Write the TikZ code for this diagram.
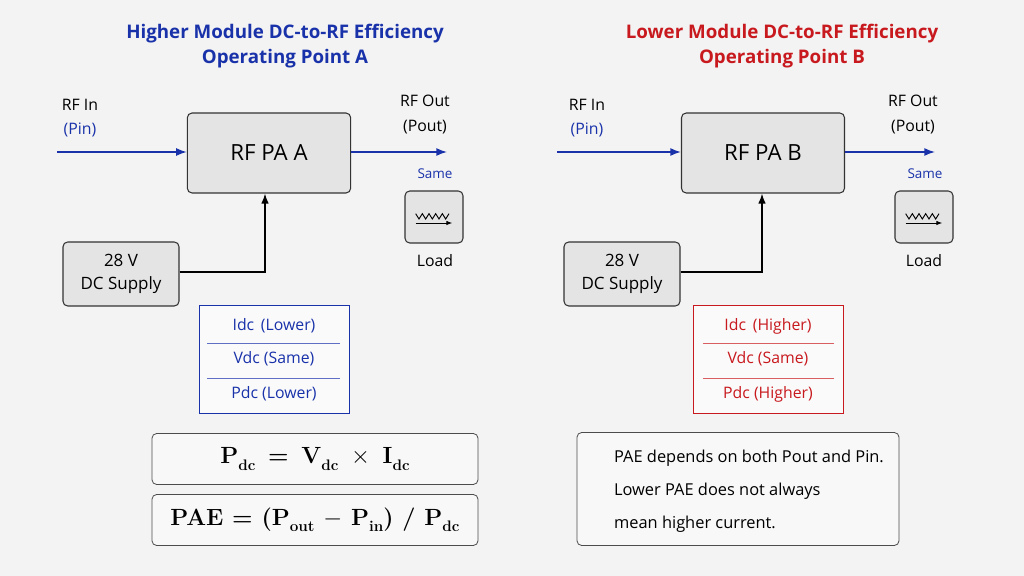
\documentclass[tikz,border=0pt]{standalone}
\usepackage{fontspec}
\setmainfont{Open Sans}
\newfontfamily\frm{Latin Modern Roman}
\usetikzlibrary{arrows.meta}
\definecolor{hiblue}{RGB}{25,50,170}
\definecolor{lored}{RGB}{200,25,30}
\definecolor{boxgray}{RGB}{228,228,228}
\definecolor{bggray}{RGB}{243,243,243}
\newcommand{\sbd}[1]{\raisebox{-0.6ex}{\frm\bfseries\fontsize{13}{14}\selectfont #1}}
\begin{document}
\begin{tikzpicture}[x=0.3mm,y=-0.3mm,font=\fontsize{13.5}{16}\selectfont]
\tikzset{
  block/.style = {draw=black!80, fill=boxgray, rounded corners=4pt, line width=0.9pt},
  pabox/.style = {block, minimum width=49mm, minimum height=24mm, font=\fontsize{19}{22}\selectfont},
  supply/.style = {block, minimum width=34.8mm, minimum height=19.2mm, align=center, font=\fontsize{14.5}{19}\selectfont},
  loadbox/.style = {block, minimum width=17.4mm, minimum height=15.6mm},
  formula/.style = {draw=black!70, fill=bggray!60!white, rounded corners=4pt, line width=0.7pt, minimum width=97.8mm, minimum height=15.3mm},
  tab/.style = {draw=#1, fill=white!60!bggray, line width=0.7pt, minimum width=45mm, minimum height=32.4mm},
  sig/.style = {hiblue, line width=1.3pt, -{Latex[length=3.2mm]}},
  title/.style = {font=\bfseries\fontsize{16}{22}\selectfont, align=center}
}
\fill[bggray] (0,0) rectangle (1024,576);
% left: operating point A
\node[title, text=hiblue] (titleA) at (285,46) {Higher Module DC-to-RF Efficiency\\Operating Point A};
\node (inA) at (80,105) {RF In};
\node[text=hiblue] (pinA) at (80,130) {(Pin)};
\coordinate (srcA) at (57,152);
\node[pabox] (paA) at (269,153) {RF PA A};
\coordinate (dstA) at (447,152);
\node (outA) at (425,101) {RF Out};
\node (poutA) at (425,127) {(Pout)};
\node[text=hiblue, font=\fontsize{11.5}{13}\selectfont] (sameA) at (435,174) {Same};
\node[loadbox] (loadA) at (434,217) {};
\draw[line width=0.8pt] ([xshift=-5.5mm,yshift=1mm]loadA.center) -- ++(1mm,-1.6mm) -- ++(1mm,1.6mm) -- ++(1mm,-1.6mm) -- ++(1mm,1.6mm) -- ++(1mm,-1.6mm) -- ++(1mm,1.6mm) -- ++(1mm,-1.6mm) -- ++(1mm,1.6mm) -- ++(1mm,-1.6mm) -- ++(1mm,1.6mm);
\draw[line width=0.8pt, -{Latex[length=1.8mm]}] ([xshift=-5.5mm,yshift=-1.8mm]loadA.center) -- ([xshift=5.5mm,yshift=-1.8mm]loadA.center);
\node (lblA) at (435,261) {Load};
\node[supply] (dcA) at (121,274) {28 V\\DC Supply};
\draw[sig] (srcA) -- (paA.west |- srcA);
\draw[sig] (paA.east |- dstA) -- (dstA);
\draw[line width=1.2pt, -{Latex[length=3mm]}] (dcA.east |- 0,272) -| (paA.south -| 265,0);
\node[tab=hiblue] (tabA) at (274,359) {};
\node[text=hiblue] (idcA) at (274,326) {Idc \,(Lower)};
\node[text=hiblue] (vdcA) at (274,359) {Vdc (Same)};
\node[text=hiblue] (pdcA) at (274,394) {Pdc (Lower)};
\draw[hiblue!70, line width=0.5pt] (207,343) -- (340,343) (207,378) -- (340,378);
\node[formula, font=\frm\bfseries\fontsize{20}{24}\selectfont] (pdc) at (315,459) {P\sbd{dc} \,=\, V\sbd{dc} \,$\times$\, I\sbd{dc}};
\node[formula, font=\frm\bfseries\fontsize{20}{24}\selectfont] (pae) at (315,520) {PAE = (P\sbd{out} $-$ P\sbd{in}) / P\sbd{dc}};
% right: operating point B
\node[title, text=lored] (titleB) at (782,46) {Lower Module DC-to-RF Efficiency\\Operating Point B};
\node (inB) at (587,105) {RF In};
\node[text=hiblue] (pinB) at (587,130) {(Pin)};
\coordinate (srcB) at (557,152);
\node[pabox, minimum width=48.9mm] (paB) at (763,153) {RF PA B};
\coordinate (dstB) at (935,152);
\node (outB) at (913,101) {RF Out};
\node (poutB) at (913,127) {(Pout)};
\node[text=hiblue, font=\fontsize{11.5}{13}\selectfont] (sameB) at (925,174) {Same};
\node[loadbox] (loadB) at (924,217) {};
\draw[line width=0.8pt] ([xshift=-5.5mm,yshift=1mm]loadB.center) -- ++(1mm,-1.6mm) -- ++(1mm,1.6mm) -- ++(1mm,-1.6mm) -- ++(1mm,1.6mm) -- ++(1mm,-1.6mm) -- ++(1mm,1.6mm) -- ++(1mm,-1.6mm) -- ++(1mm,1.6mm) -- ++(1mm,-1.6mm) -- ++(1mm,1.6mm);
\draw[line width=0.8pt, -{Latex[length=1.8mm]}] ([xshift=-5.5mm,yshift=-1.8mm]loadB.center) -- ([xshift=5.5mm,yshift=-1.8mm]loadB.center);
\node (lblB) at (924,261) {Load};
\node[supply] (dcB) at (622,274) {28 V\\DC Supply};
\draw[sig] (srcB) -- (paB.west |- srcB);
\draw[sig] (paB.east |- dstB) -- (dstB);
\draw[line width=1.2pt, -{Latex[length=3mm]}] (dcB.east |- 0,272) -| (paB.south -| 762,0);
\node[tab=lored] (tabB) at (768,359) {};
\node[text=lored] (idcB) at (768,326) {Idc \,(Higher)};
\node[text=lored] (vdcB) at (768,359) {Vdc (Same)};
\node[text=lored] (pdcB) at (768,394) {Pdc (Higher)};
\draw[lored!70, line width=0.5pt] (703,343) -- (834,343) (703,378) -- (834,378);
\node[formula, minimum width=96.6mm, minimum height=33.9mm] (note) at (738,489) {};
\node[anchor=west, align=left, font=\fontsize{14}{28}\selectfont] (noteText) at (610,491) {PAE depends on both Pout and Pin.\\Lower PAE does not always\\mean higher current.};
\end{tikzpicture}
\end{document}
